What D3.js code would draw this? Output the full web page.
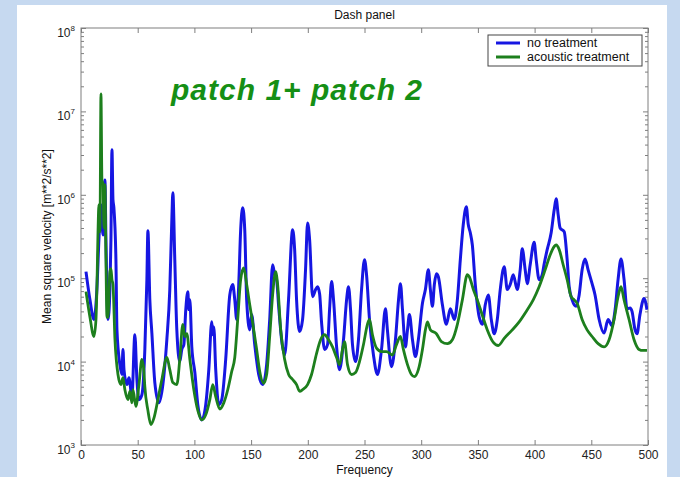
<!DOCTYPE html>
<html>
<head>
<meta charset="utf-8">
<script src="https://cdn.jsdelivr.net/npm/d3@7"></script>
<style>
  body { margin: 0; }
  text { font-family: "Liberation Sans", Arial, sans-serif; }
</style>
</head>
<body>
<div id="chart"></div>
<script>
// values
var blueFreq = [4.4, 7.9, 11.4, 14, 15.8, 17.6, 19.4, 21.1, 22, 23.8, 25.5, 26.4, 27.3, 28.2, 29, 30.8, 31.7, 34.3, 36.1, 37,
  37.9, 40.5, 42.3, 44.9, 47.5, 49.3, 51.1, 53.7, 56.3, 58.1, 59, 60.7, 62.5, 65.1, 68.7, 72.2, 75.7, 78.3, 80.1, 81,
  82.7, 84.5, 87.1, 88.9, 90.7, 92.4, 94.2, 95.1, 96, 97.7, 100.4, 103, 106.5, 110, 112.7, 115.3, 116.2, 117.1, 118.8, 121.5,
  124.1, 127.6, 131.2, 133.8, 135.6, 137.3, 139.1, 140.8, 142.6, 144.4, 146.1, 148.8, 150.5, 153.2, 156.7, 160.2, 163.7, 166.4, 169, 170.8,
  172.5, 174.3, 176.9, 179.6, 183, 186.6, 188.4, 190.1, 192.8, 195.4, 198, 199.8, 201.6, 204.2, 206.9, 208.6, 210.4, 212.1, 214.8, 217.4,
  219.2, 221, 222.7, 225.4, 228, 231.5, 234.2, 235.9, 237.7, 239.4, 242.1, 244.7, 247.4, 250, 251.8, 254.4, 257.9, 261.4, 265, 268.5,
  270.2, 273.8, 277.3, 280, 281.7, 283.5, 286.1, 287.9, 289.6, 292.3, 294.9, 297.5, 301.1, 303.7, 306.3, 308.1, 309.9, 311.6, 313.4, 315.1,
  318.7, 322.2, 325.7, 329.2, 331.9, 334.5, 337.1, 339.8, 341.5, 343.3, 345.1, 347.7, 351.2, 353.9, 356.5, 359.2, 361.8, 364.4, 367.1, 369.7,
  373.2, 375.9, 378.5, 381.2, 384.7, 387.3, 389.1, 391.7, 393.5, 396.1, 399.6, 401.4, 404, 406.7, 408.5, 411.1, 414.6, 417.3, 419, 420.8,
  422.5, 426.1, 428.7, 430.5, 433.1, 436.6, 439.3, 441.9, 444.5, 447.2, 450.7, 453.3, 456.9, 461.3, 464.8, 468.3, 471, 473.6, 476.2, 478.9,
  481.5, 484.2, 485.9, 488.6, 490.3, 492.9, 496.5, 499.1];
var blueValues = [1.2e5, 5.5e4, 3.2e4, 7.3e4, 2.9e5, 7.6e5, 3.3e5, 1.5e6, 2.9e5, 3.2e4, 7.3e4, 2.9e5, 3.46e6, 8.7e5, 7.0e5, 1.67e5, 2.4e4, 9.2e3, 7.0e3, 1.4e4,
  8.0e3, 5.3e3, 6.4e3, 3.8e3, 2.1e4, 6.1e3, 3.5e3, 4.0e3, 1.4e4, 9.6e4, 3.7e5, 5.5e4, 2.2e4, 5.6e3, 3.2e3, 5.3e3, 1.83e4, 7.3e4, 5.0e5, 1.06e6,
  1.67e5, 2.4e4, 1.0e4, 1.4e4, 1.6e4, 4.2e4, 6.9e4, 4.2e4, 5.5e4, 1.5e4, 7.4e3, 3.05e3, 2.0e3, 3.05e3, 8.0e3, 3.0e4, 2.1e4, 2.6e4, 8.0e3, 3.05e3,
  3.5e3, 1.06e4, 6.3e4, 8.4e4, 5.5e4, 3.2e4, 8.4e4, 3.8e5, 7.0e5, 3.8e5, 5.5e4, 2.4e4, 3.66e4, 1.6e4, 7.0e3, 5.3e3, 9.2e3, 3.2e4, 1.45e5, 1.1e5,
  9.6e4, 4.6e4, 1.83e4, 1.2e4, 5.5e4, 3.8e5, 2.2e5, 5.5e4, 2.3e4, 3.2e4, 1.26e5, 4.6e5, 2.9e5, 6.0e4, 7.3e4, 7.9e4, 6.5e4, 3.0e4, 1.4e4, 1.6e4,
  4.2e4, 9.1e4, 5.5e4, 1.5e4, 8.0e3, 1.83e4, 5.5e4, 7.9e4, 4.2e4, 1.6e4, 1.0e4, 1.83e4, 7.3e4, 1.67e5, 1.1e5, 3.2e4, 1.2e4, 7.0e3, 1.4e4, 4.3e4,
  2.4e4, 8.7e3, 1.83e4, 5.5e4, 8.6e4, 4.2e4, 1.5e4, 2.4e4, 3.66e4, 1.83e4, 1.15e4, 1.83e4, 5.0e4, 7.3e4, 1.26e5, 7.3e4, 4.6e4, 8.4e4, 1.13e5, 1.04e5,
  4.8e4, 2.8e4, 4.3e4, 3.2e4, 5.5e4, 1.67e5, 4.4e5, 7.2e5, 4.4e5, 3.5e5, 2.5e5, 8.4e4, 3.4e4, 2.8e4, 4.8e4, 6.3e4, 3.2e4, 2.16e4, 3.2e4, 7.3e4,
  1.37e5, 7.3e4, 8.4e4, 1.1e5, 7.3e4, 1.26e5, 2.25e5, 1.26e5, 8.6e4, 1.45e5, 2.7e5, 1.67e5, 9.6e4, 1.1e5, 1.5e5, 2.2e5, 3.5e5, 6.6e5, 8.95e5, 5.75e5,
  4.0e5, 3.6e5, 1.67e5, 7.9e4, 5.5e4, 4.6e4, 6.3e4, 1.26e5, 1.7e5, 1.26e5, 8.6e4, 6.3e4, 3.2e4, 2.2e4, 3.2e4, 2.7e4, 4.2e4, 9.6e4, 1.7e5, 9.6e4,
  4.3e4, 4.4e4, 4.0e4, 2.4e4, 2.16e4, 3.66e4, 5.7e4, 4.2e4];

var greenFreq = [4.4, 7.9, 11.4, 13.2, 14.1, 15, 15.8, 16.7, 17.6, 18.5, 19.4, 20.2, 21.1, 22, 22.9, 23.8, 25.5, 26.4, 27.3, 28.2,
  29.9, 32.6, 35.2, 37, 38.7, 41.4, 43.1, 44.9, 45.8, 48.4, 51.1, 53.7, 55.5, 56.3, 59, 61.6, 64.3, 67.8, 71.3, 75.7,
  78.3, 81, 84.5, 87.1, 89.8, 91.5, 93.3, 96, 99.5, 103, 106.5, 110, 113.6, 116.2, 118.8, 122.4, 125.9, 129.4, 132.9, 135.6,
  138.2, 140.8, 143.5, 146.1, 148.8, 151.4, 154.9, 157.6, 161.1, 163.7, 166.4, 169, 171.6, 173.4, 176.1, 179.6, 183.1, 186.6, 190.1, 192.8,
  195.4, 199.8, 203.3, 207.7, 211.3, 214.8, 218.3, 221.8, 225.4, 228, 230.6, 232.4, 235, 238.6, 242.1, 245.6, 249.1, 252.6, 254.4, 257,
  260.6, 265, 269.4, 274.6, 278.2, 281.7, 284.3, 287.9, 291.4, 294, 297.5, 301.1, 303.7, 305.5, 308.1, 313.4, 317.8, 323.1, 327.5, 331.9,
  336.3, 340.7, 342.4, 346, 349.5, 353.9, 358.3, 363.6, 368, 373.2, 380.3, 386.4, 392.6, 398.8, 404, 409.3, 413.7, 417.3, 419, 421.7,
  425.2, 428.7, 432.2, 434.9, 437.5, 441.9, 446.3, 450.7, 456, 461.3, 465.7, 470.1, 473.6, 476.2, 478.9, 483.3, 487.7, 492.1, 495.6, 499.1];
var greenValues = [6.9e4, 3.4e4, 2.0e4, 3.2e4, 8.4e4, 3.6e5, 7.6e5, 3.6e5, 1.62e7, 1.43e6, 1.43e6, 4.0e5, 1.32e6, 1.67e5, 3.4e4, 3.4e4, 1.2e5, 1.3e5, 9.6e4, 8.4e4,
  1.9e4, 7.0e3, 5.3e3, 6.4e3, 4.6e3, 3.5e3, 4.4e3, 3.2e3, 4.6e3, 2.9e3, 5.3e3, 1.06e4, 7.6e3, 5.0e3, 2.6e3, 1.76e3, 2.1e3, 3.5e3, 6.1e3, 1.12e4,
  8.0e3, 5.6e3, 5.3e3, 1.06e4, 2.8e4, 2.0e4, 2.16e4, 1.06e4, 4.6e3, 2.6e3, 2.0e3, 2.3e3, 3.5e3, 5.3e3, 3.8e3, 2.7e3, 3.2e3, 4.6e3, 7.6e3, 1.12e4,
  3.2e4, 9.6e4, 1.33e5, 8.4e4, 4.8e4, 2.9e4, 1.4e4, 7.6e3, 5.5e3, 7.0e3, 2.0e4, 6.3e4, 1.2e5, 8.4e4, 2.4e4, 1.06e4, 7.0e3, 6.1e3, 5.3e3, 4.4e3,
  4.6e3, 5.3e3, 7.0e3, 1.25e4, 1.83e4, 2.1e4, 1.83e4, 1.5e4, 1.12e4, 9.2e3, 1.4e4, 1.74e4, 9.2e3, 7.0e3, 7.4e3, 1.0e4, 1.6e4, 2.8e4, 3.2e4, 2.1e4,
  1.45e4, 1.32e4, 1.32e4, 1.2e4, 1.6e4, 2.0e4, 1.4e4, 9.2e3, 7.0e3, 6.6e3, 8.0e3, 1.4e4, 2.4e4, 3.0e4, 2.4e4, 2.16e4, 1.74e4, 1.64e4, 1.83e4, 2.8e4,
  5.5e4, 1.1e5, 1.04e5, 7.3e4, 5.5e4, 3.6e4, 2.4e4, 1.7e4, 1.56e4, 1.9e4, 2.4e4, 3.0e4, 4.0e4, 5.5e4, 7.9e4, 1.26e5, 1.9e5, 2.4e5, 2.5e5, 2.2e5,
  1.45e5, 9.6e4, 6.0e4, 5.5e4, 5.0e4, 3.2e4, 2.4e4, 2.0e4, 1.64e4, 1.5e4, 1.83e4, 3.2e4, 6.0e4, 7.9e4, 5.5e4, 3.2e4, 1.83e4, 1.4e4, 1.36e4, 1.36e4];

var xTicks = [0, 50, 100, 150, 200, 250, 300, 350, 400, 450, 500];
var yExponents = [3, 4, 5, 6, 7, 8];
var seriesNames = ["no treatment", "acoustic treatment"];

var svgWidth = 680;
var svgHeight = 477;

var margin = {
  top: 28,
  right: 32,
  bottom: 32,
  left: 81
};

var width = svgWidth - margin.left - margin.right;
var height = svgHeight - margin.top - margin.bottom;

var blueColor = "#1616e2";
var greenColor = "#1d7f1d";
var axisColor = "#7f7f7f";

var svg = d3.select("#chart")
  .append("svg")
  .attr("width", svgWidth)
  .attr("height", svgHeight);

// slide background
svg.append("rect")
  .attr("width", svgWidth)
  .attr("height", svgHeight)
  .attr("fill", "#c6d9f0");

svg.append("rect")
  .attr("x", 17)
  .attr("y", 5)
  .attr("width", 650)
  .attr("height", svgHeight - 5)
  .attr("fill", "white");

var chartGroup = svg.append("g")
  .attr("transform", `translate(${margin.left}, ${margin.top})`);

var xLinearScale = d3.scaleLinear()
  .domain([0, 500])
  .range([0, width]);

var yLogScale = d3.scaleLog()
  .domain([1e3, 1e8])
  .range([height, 0]);

var majorY = yExponents.map(e => Math.pow(10, e));
var minorY = [];
yExponents.slice(0, -1).forEach(function(e) {
  for (var m = 2; m < 10; m++) minorY.push(m * Math.pow(10, e));
});

// axes, ticks drawn inward like matlab
var bottomAxis = d3.axisBottom(xLinearScale).tickValues(xTicks).tickSize(-5).tickSizeOuter(0).tickPadding(5);
var topAxis = d3.axisTop(xLinearScale).tickValues(xTicks).tickSize(-5).tickSizeOuter(0).tickFormat("");
var leftAxis = d3.axisLeft(yLogScale).tickValues(majorY).tickSize(-5).tickSizeOuter(0).tickFormat("");
var rightAxis = d3.axisRight(yLogScale).tickValues(majorY).tickSize(-5).tickSizeOuter(0).tickFormat("");
var leftMinor = d3.axisLeft(yLogScale).tickValues(minorY).tickSize(-3).tickSizeOuter(0).tickFormat("");
var rightMinor = d3.axisRight(yLogScale).tickValues(minorY).tickSize(-3).tickSizeOuter(0).tickFormat("");

var xAxisGroup = chartGroup.append("g")
  .attr("transform", `translate(0, ${height})`)
  .call(bottomAxis);
chartGroup.append("g").call(topAxis);
var yAxisGroup = chartGroup.append("g").call(leftAxis);
chartGroup.append("g").call(leftMinor);
chartGroup.append("g").attr("transform", `translate(${width}, 0)`).call(rightAxis);
chartGroup.append("g").attr("transform", `translate(${width}, 0)`).call(rightMinor);

chartGroup.selectAll(".domain").remove();
chartGroup.selectAll(".tick line").attr("stroke", axisColor);

xAxisGroup.selectAll("text")
  .style("font-size", "12px")
  .attr("fill", "#222");

// y tick labels as 10 with superscript exponent
yAxisGroup.selectAll(".tick")
  .append("text")
  .attr("x", -6)
  .attr("dy", "0.7em")
  .attr("text-anchor", "end")
  .attr("fill", "#222")
  .style("font-size", "12px")
  .each(function(d) {
    var t = d3.select(this);
    t.append("tspan").text("10");
    t.append("tspan")
      .attr("dy", "-0.75em")
      .style("font-size", "8px")
      .text(Math.round(Math.log10(d)));
  });

chartGroup.append("rect")
  .attr("width", width)
  .attr("height", height)
  .attr("fill", "none")
  .attr("stroke", axisColor)
  .attr("stroke-width", 1);

// lines
chartGroup.append("clipPath")
  .attr("id", "plotClip")
  .append("rect")
  .attr("width", width)
  .attr("height", height);

var line = d3.line()
  .x(d => xLinearScale(d[0]))
  .y(d => yLogScale(d[1]))
  .curve(d3.curveMonotoneX);

var blueData = d3.zip(blueFreq, blueValues);
var greenData = d3.zip(greenFreq, greenValues);

chartGroup.append("path")
  .datum(blueData)
  .attr("clip-path", "url(#plotClip)")
  .attr("d", line)
  .attr("fill", "none")
  .attr("stroke", blueColor)
  .attr("stroke-width", 3)
  .attr("stroke-linejoin", "round");

chartGroup.append("path")
  .datum(greenData)
  .attr("clip-path", "url(#plotClip)")
  .attr("d", line)
  .attr("fill", "none")
  .attr("stroke", greenColor)
  .attr("stroke-width", 2.8)
  .attr("stroke-linejoin", "round");

// legend
var legend = chartGroup.append("g")
  .attr("transform", `translate(${width - 160}, 7)`);

legend.append("rect")
  .attr("width", 154)
  .attr("height", 31)
  .attr("fill", "white")
  .attr("stroke", "#444")
  .attr("stroke-width", 1);

[blueColor, greenColor].forEach(function(c, i) {
  legend.append("line")
    .attr("x1", 8).attr("x2", 32)
    .attr("y1", 8 + i * 14).attr("y2", 8 + i * 14)
    .attr("stroke", c)
    .attr("stroke-width", 3);
  legend.append("text")
    .attr("x", 39)
    .attr("y", 12 + i * 14)
    .style("font-size", "12.5px")
    .attr("fill", "#111")
    .text(seriesNames[i]);
});

// titles
chartGroup.append("text")
  .attr("x", width / 2)
  .attr("y", -9)
  .attr("text-anchor", "middle")
  .style("font-size", "12px")
  .attr("fill", "#111")
  .text("Dash panel");

chartGroup.append("text")
  .attr("x", width / 2)
  .attr("y", height + 29)
  .attr("text-anchor", "middle")
  .style("font-size", "12px")
  .attr("fill", "#111")
  .text("Frequency");

chartGroup.append("text")
  .attr("transform", "rotate(-90)")
  .attr("x", -height / 2)
  .attr("y", -30)
  .attr("text-anchor", "middle")
  .style("font-size", "12px")
  .attr("fill", "#111")
  .text("Mean square velocity [m**2/s**2]");

svg.append("text")
  .attr("x", 171)
  .attr("y", 100)
  .attr("textLength", 251)
  .attr("lengthAdjust", "spacing")
  .style("font-size", "30px")
  .style("font-weight", "bold")
  .style("font-style", "italic")
  .attr("fill", "#158f15")
  .text("patch 1+ patch 2");
</script>
</body>
</html>
